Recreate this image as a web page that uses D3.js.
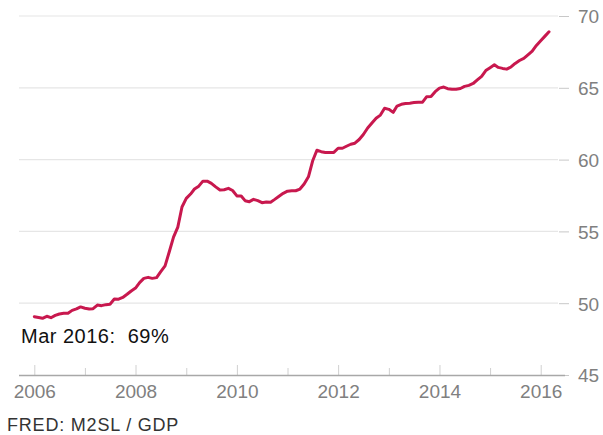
<!DOCTYPE html>
<html>
<head>
<meta charset="utf-8">
<script src="https://cdn.jsdelivr.net/npm/d3@7"></script>
<style>
  body { margin: 0; background: #fff; }
  svg text { font-family: "Liberation Sans", Arial, sans-serif; }
</style>
</head>
<body>
<div id="chart"></div>
<script>
// M2 money stock as a share of GDP (%), monthly, Jan 2006 .. Mar 2016
var startMonth = "2006-01";
var ratio = [
  49.06, 49.0, 48.95, 49.09, 48.99, 49.15, 49.25, 49.3, 49.3, 49.5, 49.6, 49.74,
  49.65, 49.6, 49.62, 49.87, 49.83, 49.9, 49.93, 50.29, 50.28, 50.4, 50.62, 50.85,
  51.05, 51.45, 51.73, 51.8, 51.73, 51.78, 52.2, 52.6, 53.6, 54.6, 55.3, 56.7,
  57.3, 57.6, 57.95, 58.15, 58.5, 58.5, 58.35, 58.1, 57.88, 57.9, 58.0, 57.85,
  57.47, 57.47, 57.14, 57.07, 57.23, 57.14, 57.0, 57.05, 57.03, 57.23, 57.45, 57.65,
  57.8, 57.83, 57.83, 57.95, 58.3, 58.8, 59.9, 60.65, 60.55, 60.5, 60.5, 60.5,
  60.79, 60.79, 60.93, 61.07, 61.14, 61.4, 61.75, 62.2, 62.55, 62.88, 63.1, 63.57,
  63.5, 63.29, 63.73, 63.85, 63.9, 63.93, 63.97, 64.0, 64.0, 64.38, 64.4, 64.73,
  64.98, 65.05, 64.94, 64.9, 64.9, 64.95, 65.1, 65.17, 65.3, 65.55, 65.8, 66.2,
  66.4, 66.6, 66.42, 66.35, 66.3, 66.45, 66.7, 66.9, 67.05, 67.3, 67.55, 67.95,
  68.28, 68.6, 68.9
];
var yTicks = [45, 50, 55, 60, 65, 70];
var xLabelYears = [2006, 2008, 2010, 2012, 2014, 2016];
var xMinorYears = [2007, 2009, 2011, 2013, 2015];
var lastLabel = "Mar 2016:  69%";
var sourceText = "FRED: M2SL / GDP";

var svgWidth = 603;
var svgHeight = 435;

var parseMonth = d3.timeParse("%Y-%m");
var start = parseMonth(startMonth);
var data = ratio.map(function(v, i) {
  return { date: d3.timeMonth.offset(start, i), value: v };
});

var svg = d3.select("#chart").append("svg")
  .attr("width", svgWidth)
  .attr("height", svgHeight);

// scales: 2006 -> 34.3px, 2016 -> 540.7px ; 45 -> 375px, 70 -> 16px
var x = d3.scaleTime()
  .domain([new Date(2006, 0, 1), new Date(2016, 0, 1)])
  .range([34.3, 540.7]);
var y = d3.scaleLinear()
  .domain([45, 70])
  .range([375, 16]);

var plotLeft = 19, gridRight = 558, axisRight = 565;

// horizontal gridlines
svg.append("g")
  .selectAll("line")
  .data(yTicks.slice(1))
  .enter()
  .append("line")
  .attr("x1", plotLeft)
  .attr("x2", gridRight)
  .attr("y1", d => y(d))
  .attr("y2", d => y(d))
  .attr("stroke", "#e6e6e6")
  .attr("stroke-width", 1.2);

// right axis
var yAxis = svg.append("g")
  .attr("transform", "translate(559,0)")
  .call(d3.axisRight(y).tickValues(yTicks).tickSize(10).tickPadding(9));
yAxis.select(".domain").remove();
yAxis.selectAll(".tick line").attr("stroke", "#c8c8c8");
yAxis.selectAll(".tick text")
  .attr("fill", "#808080")
  .attr("font-size", "19px")
  .attr("dy", "0.36em");

// bottom axis: major ticks with labels, minor ticks between
var xAxis = svg.append("g")
  .attr("transform", "translate(0,375)")
  .call(d3.axisBottom(x)
    .tickValues(xLabelYears.map(yr => new Date(yr, 0, 1)))
    .tickFormat(d3.timeFormat("%Y"))
    .tickSizeInner(-10).tickSizeOuter(0).tickPadding(9.5));
xAxis.select(".domain").remove();
xAxis.selectAll(".tick line").attr("stroke", "#d0d0d0");
xAxis.selectAll(".tick text")
  .attr("fill", "#808080")
  .attr("font-size", "19px");

var xMinor = svg.append("g")
  .attr("transform", "translate(0,375)")
  .call(d3.axisBottom(x)
    .tickValues(xMinorYears.map(yr => new Date(yr, 0, 1)))
    .tickFormat("")
    .tickSizeInner(-7).tickSizeOuter(0));
xMinor.select(".domain").remove();
xMinor.selectAll(".tick line").attr("stroke", "#d0d0d0");

svg.append("line")
  .attr("x1", plotLeft)
  .attr("x2", axisRight)
  .attr("y1", 375.5)
  .attr("y2", 375.5)
  .attr("stroke", "#a8a8a8")
  .attr("stroke-width", 1.5);

// the series
var line = d3.line()
  .x(d => x(d.date))
  .y(d => y(d.value));

svg.append("path")
  .datum(data)
  .attr("fill", "none")
  .attr("stroke", "#c8184e")
  .attr("stroke-width", 3)
  .attr("stroke-linejoin", "round")
  .attr("stroke-linecap", "round")
  .attr("d", line);

// latest value label
svg.append("text")
  .attr("x", 21)
  .attr("y", 343)
  .attr("font-size", "20px")
  .attr("letter-spacing", "0.5px")
  .attr("fill", "#111")
  .style("white-space", "pre")
  .text(lastLabel);

// source
svg.append("text")
  .attr("x", 7)
  .attr("y", 431)
  .attr("font-size", "18px")
  .attr("letter-spacing", "0.8px")
  .attr("fill", "#333")
  .text(sourceText);
</script>
</body>
</html>
